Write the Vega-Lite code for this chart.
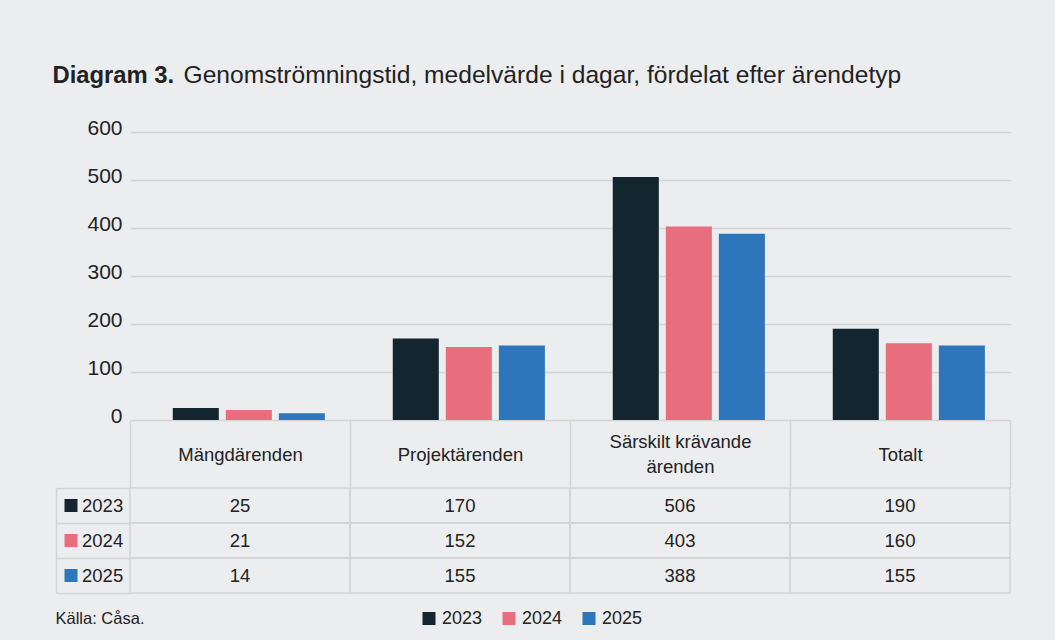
{
  "$schema": "https://vega.github.io/schema/vega-lite/v6.json",
  "background": "#ECEDEF",
  "padding": {"left": 52, "top": 62, "right": 60, "bottom": 40},
  "config": {
    "font": "Liberation Sans",
    "view": {"stroke": null},
    "axis": {"labelFont": "Liberation Sans", "titleFont": "Liberation Sans", "labelColor": "#222222", "titleColor": "#222222"},
    "legend": {"labelFont": "Liberation Sans", "labelColor": "#222222"}
  },
  "data": {
    "values": [
      {"typ": "Mängdärenden", "year": "2023", "value": 25},
      {"typ": "Mängdärenden", "year": "2024", "value": 21},
      {"typ": "Mängdärenden", "year": "2025", "value": 14},
      {"typ": "Projektärenden", "year": "2023", "value": 170},
      {"typ": "Projektärenden", "year": "2024", "value": 152},
      {"typ": "Projektärenden", "year": "2025", "value": 155},
      {"typ": "Särskilt krävande ärenden", "year": "2023", "value": 506},
      {"typ": "Särskilt krävande ärenden", "year": "2024", "value": 403},
      {"typ": "Särskilt krävande ärenden", "year": "2025", "value": 388},
      {"typ": "Totalt", "year": "2023", "value": 190},
      {"typ": "Totalt", "year": "2024", "value": 160},
      {"typ": "Totalt", "year": "2025", "value": 155}
    ]
  },
  "bounds": "flush",
  "spacing": 68,
  "vconcat": [
    {
      "width": 880,
      "height": 288,
      "mark": {"type": "bar"},
      "encoding": {
        "x": {
          "field": "typ", "type": "nominal",
          "sort": ["Mängdärenden", "Projektärenden", "Särskilt krävande ärenden", "Totalt"],
          "scale": {"type": "band", "paddingInner": 0, "paddingOuter": 0},
          "axis": {
            "orient": "top", "labels": false, "ticks": false, "domain": false, "grid": false,
            "title": "Genomströmningstid, medelvärde i dagar, fördelat efter ärendetyp",
            "titleX": 53, "titleY": -50, "titleAlign": "left", "titleBaseline": "alphabetic",
            "titleAngle": 0, "titleFontSize": 24.6, "titleFontWeight": "normal"
          }
        },
        "xOffset": {
          "field": "year", "type": "nominal",
          "scale": {"paddingInner": 0.132, "paddingOuter": 0.64, "align": 0.63}
        },
        "y": {
          "field": "value", "type": "quantitative",
          "scale": {"domain": [0, 600], "nice": false},
          "axis": {
            "values": [0, 100, 200, 300, 400, 500, 600],
            "grid": true, "gridColor": "#D3D4D7", "gridWidth": 1.5,
            "domain": false, "ticks": false, "tickSize": 0,
            "labelPadding": 8, "labelFontSize": 21, "labelBaseline": "alphabetic", "labelOffset": 2.5,
            "title": "Diagram 3.", "titleAngle": 0, "titleX": -78, "titleY": -50,
            "titleAlign": "left", "titleBaseline": "alphabetic", "titleFontSize": 23.8, "titleFontWeight": "bold"
          }
        },
        "color": {
          "field": "year", "type": "nominal",
          "scale": {"domain": ["2023", "2024", "2025"], "range": ["#13252F", "#E86E7D", "#2D76BC"]},
          "legend": {
            "orient": "none", "legendX": 290, "legendY": 477.5, "direction": "horizontal",
            "title": null, "symbolType": "square", "symbolSize": 169, "symbolStrokeWidth": 0,
            "symbolOpacity": 1, "labelFontSize": 18, "labelOffset": 4, "columnPadding": 17
          }
        }
      }
    },
    {
      "width": 880,
      "height": 105,
      "layer": [
        {
          "mark": {"type": "rect", "fill": "transparent", "stroke": "#D3D4D7", "strokeWidth": 1.5},
          "encoding": {
            "x": {
              "field": "typ", "type": "nominal",
              "sort": ["Mängdärenden", "Projektärenden", "Särskilt krävande ärenden", "Totalt"],
              "scale": {"type": "band", "paddingInner": 0, "paddingOuter": 0},
              "axis": {
                "orient": "top", "title": null, "domain": false, "grid": false,
                "ticks": true, "tickBand": "extent", "tickSize": 67.7, "tickColor": "#D3D4D7", "tickWidth": 1.5,
                "labelPadding": {
                  "condition": {"test": "datum.value == 'Särskilt krävande ärenden'", "value": -21.35},
                  "value": -33.85
                },
                "labelBaseline": "middle", "labelAngle": 0,
                "labelFontSize": 18.5, "labelLineHeight": 25, "labelLimit": 0,
                "labelExpr": "datum.label == 'Särskilt krävande ärenden' ? ['Särskilt krävande', 'ärenden'] : datum.label"
              }
            },
            "y": {
              "field": "year", "type": "nominal",
              "sort": ["2023", "2024", "2025"],
              "scale": {"type": "band", "paddingInner": 0, "paddingOuter": 0},
              "axis": {
                "orient": "left", "title": null, "domain": false, "grid": false, "offset": 53,
                "ticks": true, "tickSize": 13, "tickWidth": 13,
                "tickColor": {
                  "condition": [
                    {"test": "datum.value == '2023'", "value": "#13252F"},
                    {"test": "datum.value == '2024'", "value": "#E86E7D"}
                  ],
                  "value": "#2D76BC"
                },
                "labelPadding": -58.7, "labelFontSize": 18.5, "labelBaseline": "middle"
              }
            }
          }
        },
        {
          "mark": {"type": "text", "fontSize": 18.5, "color": "#222222", "font": "Liberation Sans"},
          "encoding": {
            "x": {
              "field": "typ", "type": "nominal",
              "sort": ["Mängdärenden", "Projektärenden", "Särskilt krävande ärenden", "Totalt"],
              "axis": {
                "orient": "bottom", "labels": false, "ticks": false, "domain": false, "grid": false,
                "title": "Källa: Cåsa.", "titleX": -75, "titleY": 30, "titleAlign": "left",
                "titleBaseline": "alphabetic", "titleAngle": 0, "titleFontSize": 16.5, "titleFontWeight": "normal"
              }
            },
            "y": {
              "field": "year", "type": "nominal",
              "sort": ["2023", "2024", "2025"],
              "axis": {
                "orient": "left", "title": null, "labels": false, "grid": false, "offset": 74,
                "domain": true, "domainColor": "#D3D4D7", "domainWidth": 1.5,
                "ticks": true, "tickBand": "extent", "tickSize": -74, "tickColor": "#D3D4D7", "tickWidth": 1.5
              }
            },
            "text": {"field": "value", "type": "quantitative"}
          }
        }
      ],
      "resolve": {"axis": {"x": "independent", "y": "independent"}}
    }
  ]
}
